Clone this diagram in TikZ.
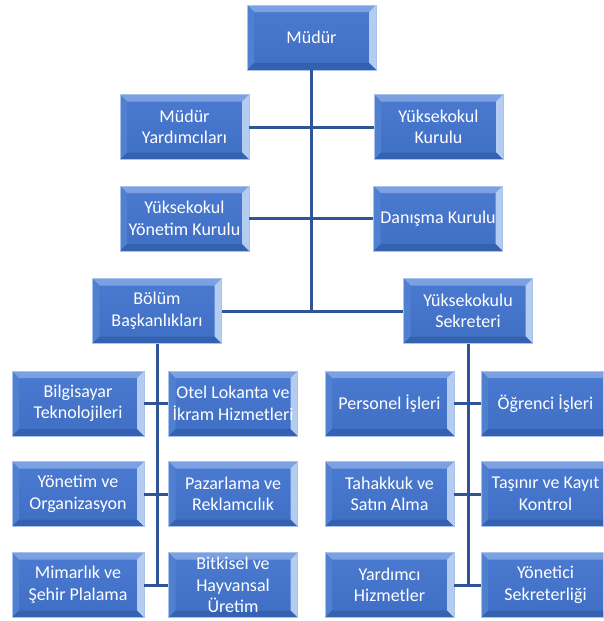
\documentclass[tikz,border=0pt]{standalone}
\usepackage{fontspec}
\setmainfont{Carlito}
\definecolor{face}{HTML}{3F6EC5}
\definecolor{facetop}{HTML}{4B7BD0}
\definecolor{bevtop}{HTML}{7CA1E2}
\definecolor{bevleft}{HTML}{5080D0}
\definecolor{bevright}{HTML}{B4CCF0}
\definecolor{bevbot}{HTML}{3461B0}
\definecolor{edge}{HTML}{A9C3EC}
\definecolor{conn}{HTML}{2F5597}
\tikzset{
  orgbox/.style={minimum width=129pt, minimum height=65pt, align=center,
    inner sep=0pt, text=white, font=\fontsize{18}{21.5}\selectfont,
    path picture={
      \fill[top color=facetop, bottom color=face] (path picture bounding box.south west) rectangle (path picture bounding box.north east);
      \fill[bevtop] (path picture bounding box.north west) -- (path picture bounding box.north east)
        -- ([xshift=-7pt,yshift=-7pt]path picture bounding box.north east) -- ([xshift=7pt,yshift=-7pt]path picture bounding box.north west) -- cycle;
      \fill[bevleft] (path picture bounding box.north west) -- ([xshift=7pt,yshift=-7pt]path picture bounding box.north west)
        -- ([xshift=7pt,yshift=7pt]path picture bounding box.south west) -- (path picture bounding box.south west) -- cycle;
      \fill[bevright] (path picture bounding box.north east) -- ([xshift=-7pt,yshift=-7pt]path picture bounding box.north east)
        -- ([xshift=-7pt,yshift=7pt]path picture bounding box.south east) -- (path picture bounding box.south east) -- cycle;
      \fill[bevbot] (path picture bounding box.south west) -- ([xshift=7pt,yshift=7pt]path picture bounding box.south west)
        -- ([xshift=-7pt,yshift=7pt]path picture bounding box.south east) -- (path picture bounding box.south east) -- cycle;
    },
    draw=edge, line width=0.8pt},
  link/.style={draw=conn, line width=3pt}
}
\begin{document}
\begin{tikzpicture}[x=1pt,y=-1pt]
\useasboundingbox (0,0) rectangle (603,621);
\begin{scope}
\clip (0,0) rectangle (603,621);
% top
\node[orgbox] (mudur) at (311.5,37.5) {Müdür};
\node[orgbox] (myard) at (184.5,127) {Müdür\\Yardımcıları};
\node[orgbox] (ykurul) at (438.5,127) {Yüksekokul\\Kurulu};
\node[orgbox] (yyk) at (184.5,218.5) {Yüksekokul\\Yönetim Kurulu};
\node[orgbox] (danisma) at (438,218.5) {Danışma Kurulu};
\node[orgbox] (bolum) at (157,311) {Bölüm\\Başkanlıkları};
\node[orgbox] (sekr) at (468,311) {Yüksekokulu\\Sekreteri};
% left group
\node[orgbox, minimum width=132pt] (bilgi) at (78,403.5) {Bilgisayar\\Teknolojileri};
\node[orgbox] (otel) at (233,403.5) {Otel Lokanta ve\\İkram Hizmetleri};
\node[orgbox, minimum width=132pt] (yonetim) at (78,494) {Yönetim ve\\Organizasyon};
\node[orgbox] (pazar) at (233,494) {Pazarlama ve\\Reklamcılık};
\node[orgbox, minimum width=132pt] (mimar) at (78,585) {Mimarlık ve\\Şehir Plalama};
\node[orgbox] (bitki) at (233,585) {Bitkisel ve\\Hayvansal\\Üretim};
% right group
\node[orgbox] (pers) at (389.5,403.5) {Personel İşleri};
\node[orgbox] (ogr) at (545.5,403.5) {Öğrenci İşleri};
\node[orgbox] (tahak) at (389.5,494) {Tahakkuk ve\\Satın Alma};
\node[orgbox] (tasin) at (545.5,494) {Taşınır ve Kayıt\\Kontrol};
\node[orgbox] (yard) at (389.5,585) {Yardımcı\\Hizmetler};
\node[orgbox] (ysek) at (545.5,585) {Yönetici\\Sekreterliği};
% connectors
\draw[link] (mudur.south) -- (mudur.south |- bolum.east);
\draw[link] (myard.east) -- (ykurul.west);
\draw[link] (yyk.east) -- (danisma.west);
\draw[link] (bolum.east) -- (sekr.west);
\draw[link] (bolum.south) -- (bolum.south |- mimar.east);
\draw[link] (bilgi.east) -- (otel.west);
\draw[link] (yonetim.east) -- (pazar.west);
\draw[link] (mimar.east) -- (bitki.west);
\draw[link] (sekr.south) -- (sekr.south |- yard.east);
\draw[link] (pers.east) -- (ogr.west);
\draw[link] (tahak.east) -- (tasin.west);
\draw[link] (yard.east) -- (ysek.west);
\end{scope}
\end{tikzpicture}
\end{document}
